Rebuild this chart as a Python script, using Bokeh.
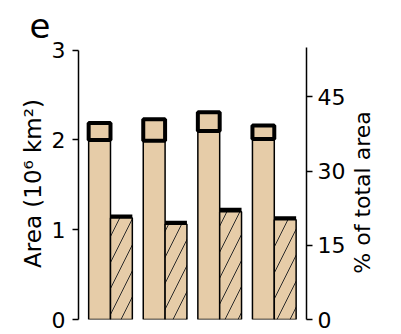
import math
from bokeh.plotting import figure
from bokeh.layouts import row
from bokeh.models import Range1d, LinearAxis, FixedTicker
from bokeh.core.properties import value
from bokeh.embed import file_html
from bokeh.resources import INLINE

# Four regions; each has a total-area bar (solid) and a sub-area bar (hatched),
# with a box marking the uncertainty range on top of each bar.
groups = [0, 1, 2, 3]
total_low = [2.00, 1.99, 2.10, 2.01]
total_high = [2.19, 2.23, 2.31, 2.16]
sub_low = [1.13, 1.06, 1.20, 1.11]
sub_high = [1.17, 1.10, 1.245, 1.15]

left_ticks = [0, 1, 2, 3]
right_ticks = [0, 15, 30, 45]

FILL = "#E6CCA8"
FONT = "DejaVu Sans"
BAR_W = 0.4

p = figure(
    frame_width=228, frame_height=272,
    min_border_left=78, min_border_right=45, min_border_top=47, min_border_bottom=15,
    x_range=Range1d(-0.586, 3.59), y_range=Range1d(0, 3.03),
    output_backend="svg", toolbar_location=None,
    background_fill_color="white", border_fill_color="white",
)
p.outline_line_color = None
p.xgrid.visible = False
p.ygrid.visible = False
p.xaxis.visible = False

# panel letter
p.title.text = "e"
p.title.align = "left"
p.title.offset = -49
p.title.standoff = 19
p.title.text_font = FONT
p.title.text_font_size = "34px"
p.title.text_font_style = "normal"
p.title.text_color = "black"

xs_total = [g - BAR_W / 2 for g in groups]
xs_sub = [g + BAR_W / 2 for g in groups]

# solid bars
p.vbar(x=xs_total, top=total_low, width=BAR_W, bottom=0,
       fill_color=FILL, line_color="black", line_width=1.5)
# hatched bars
p.vbar(x=xs_sub, top=sub_low, width=BAR_W, bottom=0,
       fill_color=FILL, line_color="black", line_width=1.5,
       hatch_pattern="/", hatch_color="#2a2a2a", hatch_scale=26, hatch_weight=1)

# uncertainty boxes
p.quad(left=[g - BAR_W for g in groups], right=groups,
       bottom=total_low, top=total_high,
       fill_color=FILL, line_color="black", line_width=4)
p.quad(left=groups, right=[g + BAR_W for g in groups],
       bottom=sub_low, top=sub_high,
       fill_color="black", line_color=None)

def style_axis(ax):
    ax.axis_line_width = 1.5
    ax.axis_line_color = "black"
    ax.major_tick_line_width = 1.5
    ax.major_tick_out = 6
    ax.major_tick_in = 0
    ax.minor_tick_line_color = None
    ax.major_label_text_font = FONT
    ax.major_label_text_font_size = "22px"
    ax.major_label_text_color = "black"
    ax.major_label_standoff = 5
    ax.axis_label_text_font = FONT
    ax.axis_label_text_font_size = "23px"
    ax.axis_label_text_font_style = "normal"
    ax.axis_label_text_color = "black"

la = p.yaxis[0]
la.ticker = FixedTicker(ticks=left_ticks)
la.bounds = (0, 3)
la.axis_label = "Area (10⁶ km²)"
style_axis(la)
la.major_label_standoff = 7
la.axis_label_standoff = 3

p.extra_y_ranges = {"pct": Range1d(0, 55)}
ra = LinearAxis(y_range_name="pct", ticker=FixedTicker(ticks=right_ticks))
style_axis(ra)
p.add_layout(ra, "right")

# narrow strip to the right holding the secondary axis title, read bottom to top
strip = figure(width=50, height=334, x_range=Range1d(0, 50), y_range=Range1d(0, 334),
               min_border=0, output_backend="svg", toolbar_location=None,
               background_fill_color="white", border_fill_color="white")
strip.outline_line_color = None
strip.axis.visible = False
strip.grid.visible = False
strip.text(x=[11], y=[156], text=["% of total area"], angle=math.pi / 2,
           text_font=value(FONT), text_font_size="22px", text_color="black",
           text_align="center", text_baseline="middle")

layout = row(p, strip, spacing=0)
open("out.html", "w").write(file_html(layout, INLINE))
